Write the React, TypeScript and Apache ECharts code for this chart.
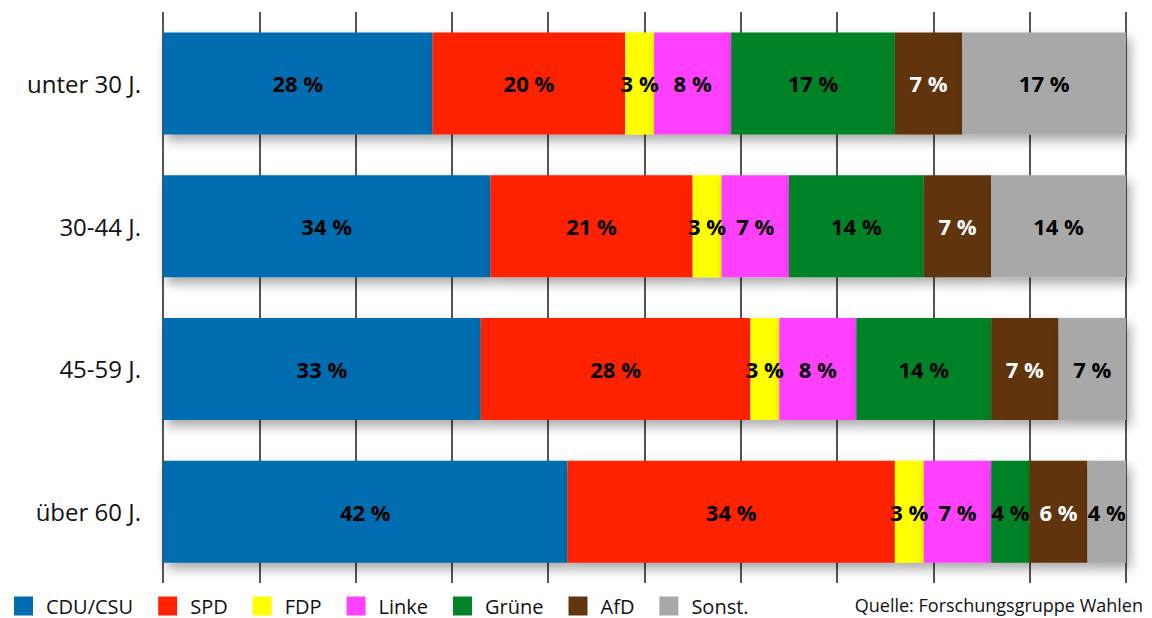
import React, { useEffect, useRef } from "react";
import * as echarts from "echarts";

const categories = ["unter 30 J.", "30-44 J.", "45-59 J.", "über 60 J."];
const parties = ["CDU/CSU", "SPD", "FDP", "Linke", "Grüne", "AfD", "Sonst."];
const cduValues = [28, 34, 33, 42];
const spdValues = [20, 21, 28, 34];
const fdpValues = [3, 3, 3, 3];
const linkeValues = [8, 7, 8, 7];
const grueneValues = [17, 14, 14, 4];
const afdValues = [7, 7, 7, 6];
const sonstValues = [17, 14, 7, 4];
const sourceText = "Quelle: Forschungsgruppe Wahlen";

const seriesValues = [cduValues, spdValues, fdpValues, linkeValues, grueneValues, afdValues, sonstValues];
const colors = ["#006db1", "#ff2200", "#ffff00", "#ff40ff", "#038227", "#613510", "#a8a8a8"];
const labelColors = ["#000", "#000", "#000", "#000", "#000", "#fff", "#000"];

export default function App() {
  const ref = useRef<HTMLDivElement>(null);
  useEffect(() => {
    document.body.style.margin = "0";
    if (!ref.current) return;
    const chart = echarts.init(ref.current, null, { renderer: "svg" });
    chart.setOption({
      animation: false,
      grid: { left: 163, right: 26, top: 12, bottom: 35, containLabel: false },
      xAxis: {
        type: "value",
        min: 0,
        max: 100,
        interval: 10,
        axisLabel: { show: false },
        axisLine: { show: false },
        axisTick: { show: false },
        splitLine: { show: true, lineStyle: { color: "#555", width: 2 } },
      },
      yAxis: {
        type: "category",
        data: categories,
        inverse: true,
        axisLine: { show: false },
        axisTick: { show: false },
        axisLabel: {
          fontFamily: "Open Sans",
          fontSize: 24,
          color: "#111",
          margin: 22,
        },
      },
      legend: {
        left: 14,
        top: 596,
        itemWidth: 19,
        itemHeight: 19,
        itemGap: 25,
        icon: "rect",
        padding: 0,
        textStyle: {
          fontFamily: "Open Sans",
          fontSize: 20,
          color: "#111",
          padding: [0, 0, 0, 8],
        },
        data: parties,
      },
      graphic: [
        {
          type: "text",
          right: 9,
          top: 596,
          style: {
            text: sourceText,
            fontFamily: "Open Sans",
            fontSize: 18,
            fill: "#111",
          },
        },
      ],
      series: parties.map((name, i) => ({
        name,
        type: "bar",
        stack: "total",
        barWidth: 102,
        data: seriesValues[i],
        itemStyle: {
          color: colors[i],
          shadowColor: "rgba(0,0,0,0.35)",
          shadowBlur: 12,
          shadowOffsetX: 4,
          shadowOffsetY: 6,
        },
        label: {
          show: true,
          position: "inside",
          formatter: "{c} %",
          fontFamily: "Open Sans",
          fontWeight: "bold",
          fontSize: 22,
          color: labelColors[i],
        },
      })),
    });
    return () => chart.dispose();
  }, []);
  return <div ref={ref} style={{ width: 1152, height: 618 }} />;
}
